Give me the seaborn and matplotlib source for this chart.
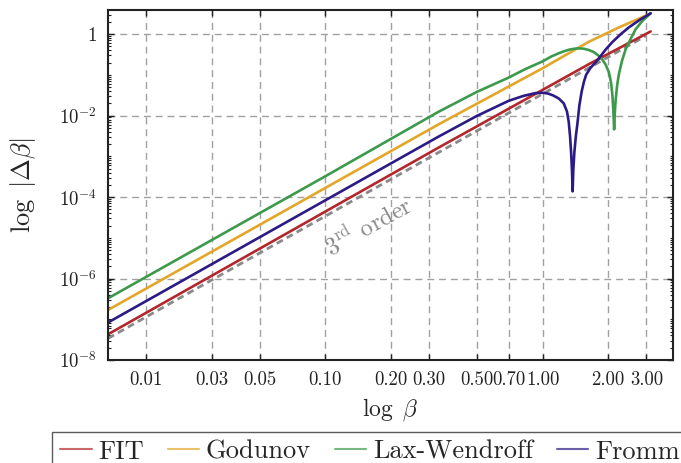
import numpy as np
import pandas as pd
import matplotlib
matplotlib.use("Agg")
import matplotlib.pyplot as plt
import matplotlib.ticker as mticker
from matplotlib.lines import Line2D
import seaborn as sns

# ---------------- data ----------------
fit_beta = [0.01, 0.331, 1.0, 1.63, 3.14]
fit_err = [4.27e-8, 1.62e-3, 0.0427, 0.182, 1.16]

god_beta = [0.01, 0.331, 1.0, 1.63, 2.24, 3.14]
god_err = [1.69e-7, 6.03e-3, 0.145, 0.646, 1.45, 3.2]

# log10(beta), log10(|d beta|)
lw_logb = [-2.0, -1.0, -0.48, -0.303, -0.157, -0.08, 0.0, 0.04, 0.074, 0.10,
           0.12, 0.145, 0.166, 0.19, 0.212, 0.235, 0.255, 0.274, 0.29, 0.305,
           0.315, 0.321, 0.325, 0.329, 0.332, 0.336, 0.343, 0.351, 0.365,
           0.382, 0.405, 0.428, 0.46, 0.497]
lw_loge = [-6.486, -3.49, -1.91, -1.42, -1.07, -0.86, -0.67, -0.55, -0.47,
           -0.42, -0.385, -0.36, -0.35, -0.36, -0.39, -0.44, -0.52, -0.62,
           -0.75, -0.94, -1.2, -1.5, -1.85, -2.34, -1.95, -1.62, -1.25, -0.98,
           -0.66, -0.37, -0.12, 0.12, 0.33, 0.51]

fr_logb = [-2.0, -1.0, -0.48, -0.303, -0.157, -0.09, -0.034, 0.0, 0.025, 0.05,
           0.074, 0.097, 0.112, 0.120, 0.126, 0.131, 0.135, 0.138, 0.141,
           0.146, 0.153, 0.160, 0.169, 0.18, 0.19, 0.2, 0.22, 0.243, 0.258,
           0.29, 0.32, 0.36, 0.397, 0.45, 0.497]
fr_loge = [-7.08, -4.08, -2.52, -2.01, -1.64, -1.52, -1.45, -1.44, -1.46,
           -1.51, -1.58, -1.70, -1.9, -2.15, -2.5, -2.9, -3.35, -3.86, -3.35,
           -2.9, -2.5, -2.2, -1.75, -1.4, -1.17, -1.0, -0.83, -0.70, -0.60,
           -0.38, -0.20, 0.0, 0.165, 0.36, 0.51]

ref_beta = [0.01, 2.98]
ref_err = [3.39e-8, 0.90]

xtick_vals = [0.015, 0.03, 0.05, 0.1, 0.2, 0.3, 0.5, 0.7, 1.0, 2.0, 3.0]
ytick_vals = [1e-8, 1e-6, 1e-4, 1e-2, 1.0]
ytick_labels = [r"$10^{-8}$", r"$10^{-6}$", r"$10^{-4}$", r"$10^{-2}$", r"$1$"]

series = {
    "FIT": (fit_beta, fit_err),
    "Godunov": (god_beta, god_err),
    "Lax-Wendroff": ([10 ** v for v in lw_logb], [10 ** v for v in lw_loge]),
    "Fromm": ([10 ** v for v in fr_logb], [10 ** v for v in fr_loge]),
}
colors = {"FIT": "#b3262b", "Godunov": "#e3a628", "Lax-Wendroff": "#3d9a4b",
          "Fromm": "#2c1a86"}

frames = []
for name, (b, e) in series.items():
    frames.append(pd.DataFrame({"beta": b, "err": e, "scheme": name}))
df = pd.concat(frames, ignore_index=True)

# ---------------- style ----------------
sns.set_style("ticks")
plt.rcParams["font.family"] = ["cmr10", "DejaVu Serif"]
plt.rcParams["mathtext.fontset"] = "cm"
plt.rcParams["axes.unicode_minus"] = False
plt.rcParams["axes.formatter.use_mathtext"] = True

fig = plt.figure(figsize=(6.81, 4.63), dpi=100)
ax = fig.add_axes([108 / 681, 1 - 360 / 463, (673 - 108) / 681, (360 - 10) / 463])

# reference 3rd order
sns.lineplot(x=ref_beta, y=ref_err, ax=ax, color="#8a8a8a", lw=2.0,
             linestyle=(0, (2.5, 1.6)), legend=False)

for name in series:
    sub = df[df.scheme == name]
    sns.lineplot(data=sub, x="beta", y="err", ax=ax, color=colors[name],
                 lw=1.9, estimator=None, sort=False, legend=False)

ax.set_xscale("log")
ax.set_yscale("log")
ax.set_xlim(0.01, 3.98)
ax.set_ylim(1e-8, 3.9)

ax.xaxis.set_major_locator(mticker.FixedLocator(xtick_vals))
ax.xaxis.set_major_formatter(mticker.FormatStrFormatter("%.2f"))
ax.xaxis.set_minor_locator(mticker.NullLocator())
ax.yaxis.set_major_locator(mticker.FixedLocator(ytick_vals))
ax.yaxis.set_major_formatter(mticker.FixedFormatter(ytick_labels))
ax.yaxis.set_minor_locator(mticker.LogLocator(base=10, subs=np.arange(1, 10), numticks=30))
ax.yaxis.set_minor_formatter(mticker.NullFormatter())

ax.tick_params(which="both", direction="in", top=True, right=True, colors="#222222")
ax.tick_params(which="major", length=4, width=1.0, labelsize=13.5, pad=8)
ax.tick_params(which="minor", length=2.5, width=0.8)
for sp in ax.spines.values():
    sp.set_linewidth(1.5)
    sp.set_color("#222222")

ax.grid(True, which="major", color="#a0a0a0", linestyle=(0, (5, 3.5)), lw=1.0)

ax.set_xlabel(r"$\log\ \beta$", fontsize=17, labelpad=5)
ax.set_ylabel(r"$\log\ |\Delta\beta|$", fontsize=19, labelpad=15)

ax.text(0.158, 1.9e-5, r"3$^{\mathrm{rd}}$ order", color="#8a8a8a", fontsize=17.5,
        rotation=29, ha="center", va="center", rotation_mode="anchor")

handles = [Line2D([], [], color=colors[n], lw=1.5, alpha=0.7) for n in series]
leg = fig.legend(handles, list(series.keys()), loc="upper left",
                 bbox_to_anchor=(52 / 681, 1 - 432 / 463), ncol=4,
                 frameon=True, fancybox=False, fontsize=19, handlelength=1.2,
                 handletextpad=0.25, columnspacing=0.9, borderaxespad=0,
                 borderpad=0.3)
leg.get_frame().set_edgecolor("#333333")
leg.get_frame().set_linewidth(1.0)

fig.savefig("out.png", dpi=100)
